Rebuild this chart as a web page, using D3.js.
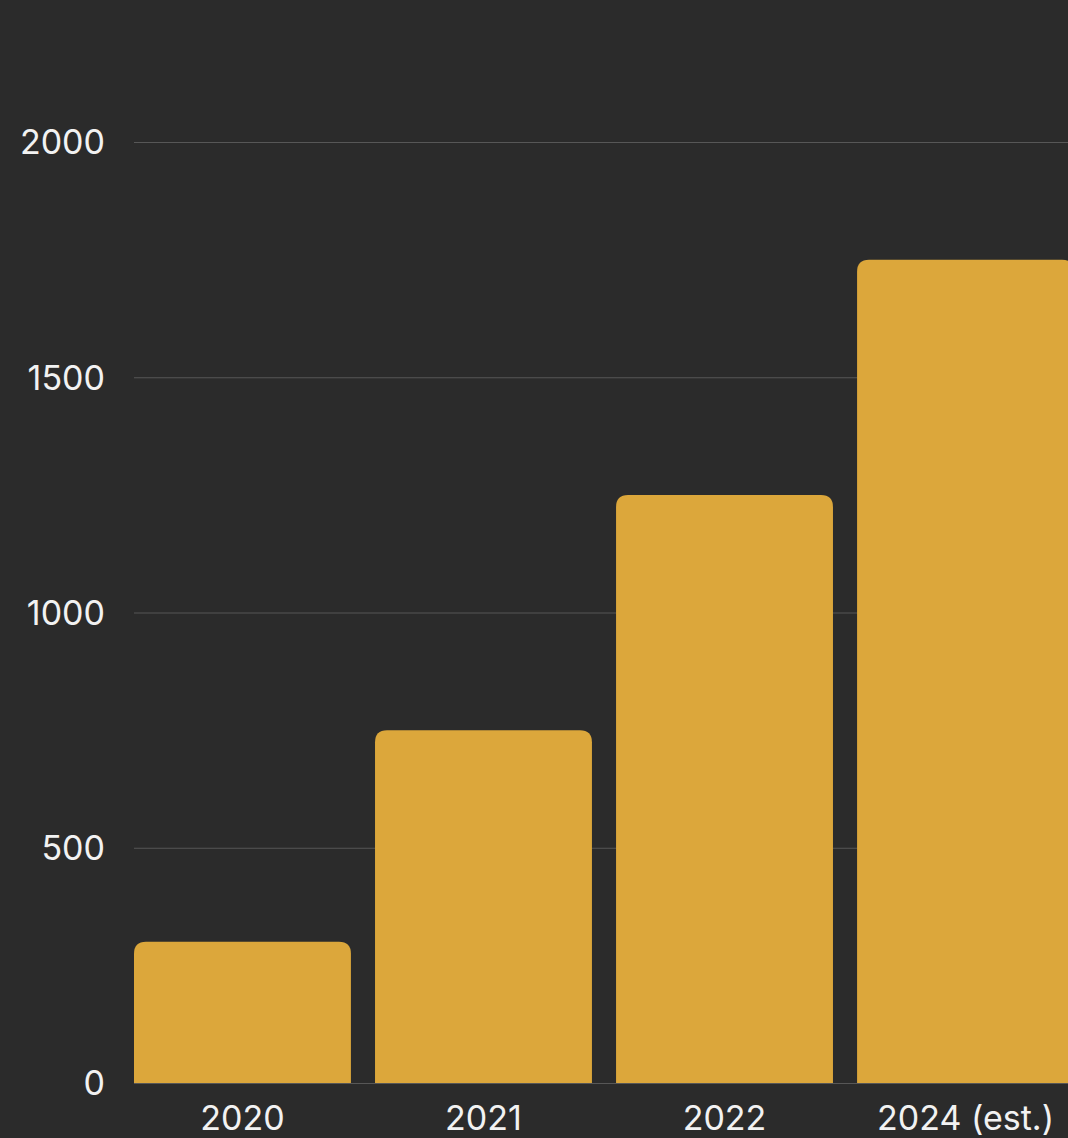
<!DOCTYPE html>
<html>
<head>
<meta charset="utf-8">
<script src="https://cdn.jsdelivr.net/npm/d3@7"></script>
<style>
  html, body { margin: 0; padding: 0; background: #2b2b2b; overflow: hidden; }
  svg { display: block; }
  .tick text { fill: #f2f2f2; font-family: Inter, "Noto Sans", sans-serif; font-size: 34px; }
  .grid line { stroke: #575757; stroke-width: 1; }
</style>
</head>
<body>
<svg id="chart" width="1068" height="1138"></svg>
<script>
const years = ['2020', '2021', '2022', '2024 (est.)']
const values = [300, 750, 1250, 1750]
const yTicks = [0, 500, 1000, 1500, 2000]

const svg = d3.select('#chart')

const xScale = d3.scaleBand().domain(years).range([134, 1074]).paddingInner(0.1).paddingOuter(0)
const yScale = d3.scaleLinear().domain([0, 2000]).range([1083, 142])

// gridlines
svg.append('g')
    .classed('grid', true)
    .selectAll('line')
    .data(yTicks)
    .enter()
    .append('line')
    .attr('x1', 134)
    .attr('x2', 1068)
    .attr('y1', d => yScale(d) + 0.5)
    .attr('y2', d => yScale(d) + 0.5)

// y axis labels
const yAxis = svg.append('g')
    .attr('transform', 'translate(105,0)')
    .call(d3.axisLeft(yScale).tickValues(yTicks).tickFormat(d3.format('d')).tickSize(0).tickPadding(0))
yAxis.select('.domain').remove()
yAxis.selectAll('text').attr('dy', '0.35em')

// bars with rounded tops
const r = 12
svg.selectAll('.bar')
    .data(values)
    .enter()
    .append('path')
    .classed('bar', true)
    .attr('fill', '#dca73b')
    .attr('d', (d, i) => {
        const x0 = xScale(years[i])
        const x1 = x0 + xScale.bandwidth()
        const y0 = yScale(d)
        const yb = yScale(0)
        return `M${x0},${yb} L${x0},${y0 + r} Q${x0},${y0} ${x0 + r},${y0} L${x1 - r},${y0} Q${x1},${y0} ${x1},${y0 + r} L${x1},${yb} Z`
    })

// x axis labels
const xAxis = svg.append('g')
    .attr('transform', `translate(0,${yScale(0)})`)
    .call(d3.axisBottom(xScale).tickSize(0).tickPadding(0))
xAxis.select('.domain').remove()
xAxis.selectAll('text').attr('dy', null).attr('y', 47)
</script>
</body>
</html>
